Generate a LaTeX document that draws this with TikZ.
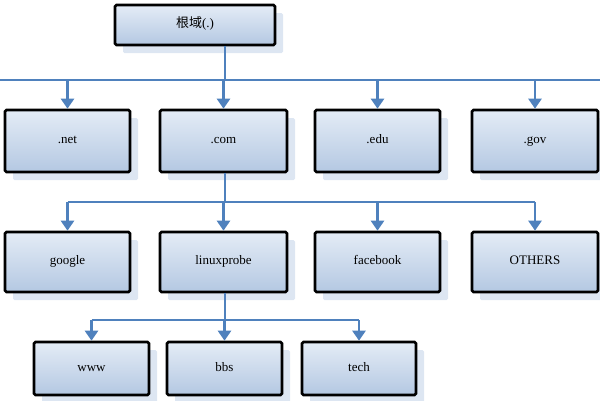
\documentclass[tikz,border=0pt]{standalone}
\usepackage{fontspec}
\setmainfont{Liberation Serif}
\newfontfamily\cjk{Noto Sans CJK SC}
\usetikzlibrary{arrows.meta,shadows}
\definecolor{ln}{HTML}{4F81BD}
\definecolor{topc}{HTML}{E4ECF6}
\definecolor{botc}{HTML}{B4C8E2}
\definecolor{shc}{HTML}{DDE6F2}
\begin{document}
\begin{tikzpicture}[x=1pt,y=-1pt,
 box/.style={draw=black,line width=2.6pt,rounded corners=1.5pt,top color=topc,bottom color=botc,
   drop shadow={shadow xshift=8pt,shadow yshift=-8pt,fill=shc,opacity=1},
   font=\fontsize{13}{15}\selectfont,inner sep=0pt,text height=1.6ex,text depth=.3ex},
 ln/.style={draw=ln,line width=2.8pt},
 arr/.style={ln,-{Triangle[length=10pt,width=13pt]}}]
\useasboundingbox (0,0) rectangle (600,400);
\newcommand\bx[6]{\node[box,minimum width=#4-#3,minimum height=#6-#5] (#1) at ({(#3+#4)/2},{(#5+#6)/2}) {#2};}
\bx{root}{{\cjk 根域}(.)}{115}{275}{5}{45}
\bx{net}{.net}{5}{130}{110}{172}
\bx{com}{.com}{160}{287}{110}{172}
\bx{edu}{.edu}{315}{440}{110}{172}
\bx{gov}{.gov}{472}{598}{110}{172}
\bx{google}{google}{5}{130}{232}{292}
\bx{linux}{linuxprobe}{160}{287}{232}{292}
\bx{fb}{facebook}{315}{440}{232}{292}
\bx{oth}{OTHERS}{472}{598}{232}{292}
\bx{www}{www}{34}{149}{342}{395}
\bx{bbs}{bbs}{167}{282}{342}{395}
\bx{tech}{tech}{302}{416}{342}{395}
\coordinate (h1) at (225,80);
\coordinate (hl) at (0,80);
\coordinate (hr) at (600,80);
\draw[ln] (h1 |- root.south) -- (h1);
\draw[ln] (hl) -- (hr);
\foreach \n in {net,com,edu,gov}{\draw[arr] (\n.north |- hl) -- (\n.north);}
\coordinate (h2) at (225,202);
\draw[ln] (h2 |- com.south) -- (h2);
\draw[ln] (google.north |- h2) -- (oth.north |- h2);
\foreach \n in {google,linux,fb,oth}{\draw[arr] (\n.north |- h2) -- (\n.north);}
\coordinate (h3) at (225,320);
\draw[ln] (h3 |- linux.south) -- (h3);
\draw[ln] (www.north |- h3) -- (tech.north |- h3);
\foreach \n in {www,bbs,tech}{\draw[arr] (\n.north |- h3) -- (\n.north);}
\end{tikzpicture}
\end{document}
